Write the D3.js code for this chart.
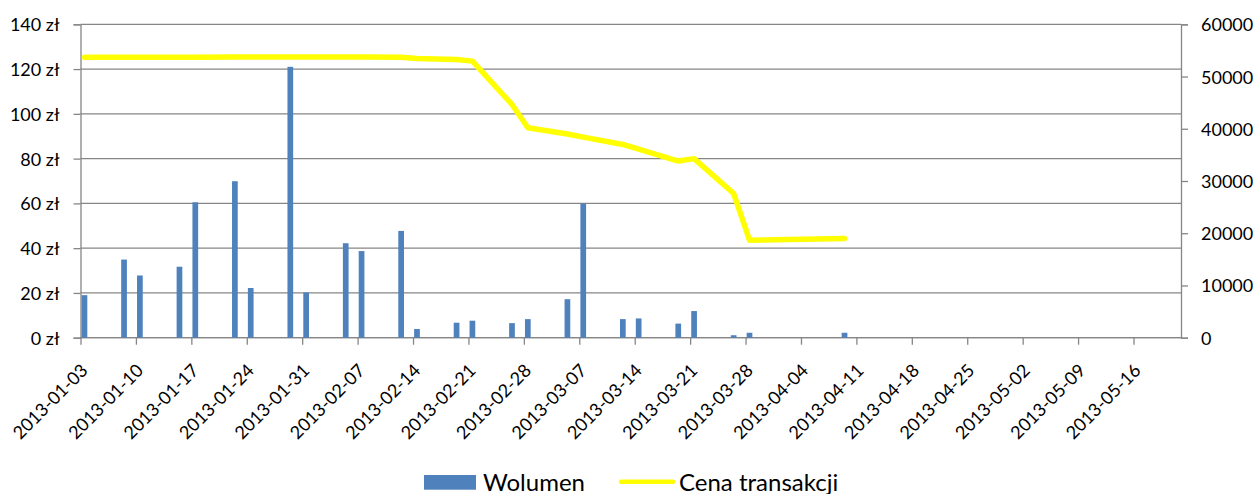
<!DOCTYPE html>
<html>
<head>
<meta charset="utf-8">
<script src="https://cdn.jsdelivr.net/npm/d3@7"></script>
<style>
  body { margin: 0; background: #fff; }
  text { font-family: Lato, "Open Sans", sans-serif; fill: #000; }
</style>
</head>
<body>
<div id="chart"></div>
<script>
// trading days (Tue / Thu)
const dates = ["2013-01-03","2013-01-08","2013-01-10","2013-01-15","2013-01-17","2013-01-22","2013-01-24",
  "2013-01-29","2013-01-31","2013-02-05","2013-02-07","2013-02-12","2013-02-14","2013-02-19","2013-02-21",
  "2013-02-26","2013-02-28","2013-03-05","2013-03-07","2013-03-12","2013-03-14","2013-03-19","2013-03-21",
  "2013-03-26","2013-03-28","2013-04-09"];

// Wolumen - left axis (zł)
const wolumen = [19, 34.9, 27.8, 31.7, 60.5, 69.9, 22.2, 121, 20.2, 42.2, 38.7, 47.7, 3.9, 6.7, 7.6,
  6.5, 8.3, 17.2, 59.9, 8.3, 8.6, 6.3, 11.9, 1.1, 2.2, 2.2];

// Cena transakcji - right axis
const cena = [53700, 53700, 53700, 53700, 53700, 53750, 53750, 53750, 53750, 53750, 53750, 53700, 53450,
  53250, 52950, 44650, 40200, 39000, 38400, 37000, 36100, 33820, 34280, 27600, 18670, 19000];

const tickDates = ["2013-01-03","2013-01-10","2013-01-17","2013-01-24","2013-01-31","2013-02-07","2013-02-14",
  "2013-02-21","2013-02-28","2013-03-07","2013-03-14","2013-03-21","2013-03-28","2013-04-04","2013-04-11",
  "2013-04-18","2013-04-25","2013-05-02","2013-05-09","2013-05-16"];
const leftTicks = [0, 20, 40, 60, 80, 100, 120, 140];
const rightTicks = [0, 10000, 20000, 30000, 40000, 50000, 60000];

const W = 1258, H = 494;
const plot = {left: 80.5, right: 1181, top: 24.3, bottom: 337.7};
const grey = "#868686";

const parse = d3.utcParse("%Y-%m-%d");
const data = dates.map(function(d, i) {
  return {date: parse(d), wol: wolumen[i], cena: cena[i]};
});

const svg = d3.select("#chart")
  .append("svg")
    .attr("width", W)
    .attr("height", H);

// date axis: one slot per day, 2013-01-03 .. 2013-05-21
const x = d3.scaleUtc()
  .domain([parse("2013-01-03"), parse("2013-05-22")])
  .range([plot.left, plot.right]);
const dayW = x(parse("2013-01-04")) - x(parse("2013-01-03"));

const yL = d3.scaleLinear().domain([0, 140]).range([plot.bottom, plot.top]);
const yR = d3.scaleLinear().domain([0, 60000]).range([plot.bottom, plot.top]);

// gridlines (left axis)
svg.append("g")
  .selectAll("line")
  .data(leftTicks)
  .enter()
  .append("line")
    .attr("x1", plot.left)
    .attr("x2", plot.right)
    .attr("y1", d => yL(d))
    .attr("y2", d => yL(d))
    .attr("stroke", grey)
    .attr("stroke-width", 1.3);

// left axis
const axL = svg.append("g")
  .attr("transform", `translate(${plot.left},0)`)
  .call(d3.axisLeft(yL).tickValues(leftTicks).tickSize(7).tickPadding(14)
    .tickFormat(d => d + " zł"));
axL.selectAll("path, line").attr("stroke", grey).attr("stroke-width", 1.3);
axL.selectAll("text").style("font-size", "18px").attr("dy", "0.36em");

// right axis
const axR = svg.append("g")
  .attr("transform", `translate(${plot.right},0)`)
  .call(d3.axisRight(yR).tickValues(rightTicks).tickSize(7).tickPadding(13)
    .tickFormat(d3.format("d")));
axR.selectAll("path, line").attr("stroke", grey).attr("stroke-width", 1.3);
axR.selectAll("text").style("font-size", "18px").attr("dy", "0.36em");

// bottom axis
const axB = svg.append("g")
  .attr("transform", `translate(0,${plot.bottom})`)
  .call(d3.axisBottom(x).tickValues(tickDates.map(parse)).tickSize(7)
    .tickFormat(d3.utcFormat("%Y-%m-%d")));
axB.select("path").attr("stroke", grey).attr("stroke-width", 1.3)
  .attr("d", `M${plot.left},0H${plot.right}`);
axB.selectAll("line").attr("stroke", grey).attr("stroke-width", 1.3);
axB.selectAll("text")
  .style("font-size", "18px")
  .attr("text-anchor", "end")
  .attr("y", 0)
  .attr("dy", 0)
  .attr("transform", "translate(8,34) rotate(-45)");

// bars
svg.append("g")
  .selectAll("rect")
  .data(data)
  .enter()
  .append("rect")
    .attr("fill", "#4f81bd")
    .attr("x", d => x(d.date) + dayW / 2 - 2.85)
    .attr("width", 5.7)
    .attr("y", d => yL(d.wol))
    .attr("height", d => plot.bottom - yL(d.wol));

// price line
svg.append("path")
  .datum(data)
  .attr("fill", "none")
  .attr("stroke", "#ffff00")
  .attr("stroke-width", 5.5)
  .attr("stroke-linecap", "round")
  .attr("stroke-linejoin", "round")
  .attr("d", d3.line()
    .x(d => x(d.date) + dayW / 2)
    .y(d => yR(d.cena)));

// legend
const leg = svg.append("g");
leg.append("rect")
  .attr("x", 424).attr("y", 475)
  .attr("width", 52).attr("height", 14.7)
  .attr("fill", "#4f81bd");
leg.append("text")
  .attr("x", 483).attr("y", 490.5)
  .style("font-size", "24px")
  .text("Wolumen");
leg.append("line")
  .attr("x1", 621).attr("x2", 673)
  .attr("y1", 481.7).attr("y2", 481.7)
  .attr("stroke", "#ffff00")
  .attr("stroke-width", 4.5)
  .attr("stroke-linecap", "round");
leg.append("text")
  .attr("x", 679).attr("y", 490.5)
  .style("font-size", "24px")
  .text("Cena transakcji");
</script>
</body>
</html>
